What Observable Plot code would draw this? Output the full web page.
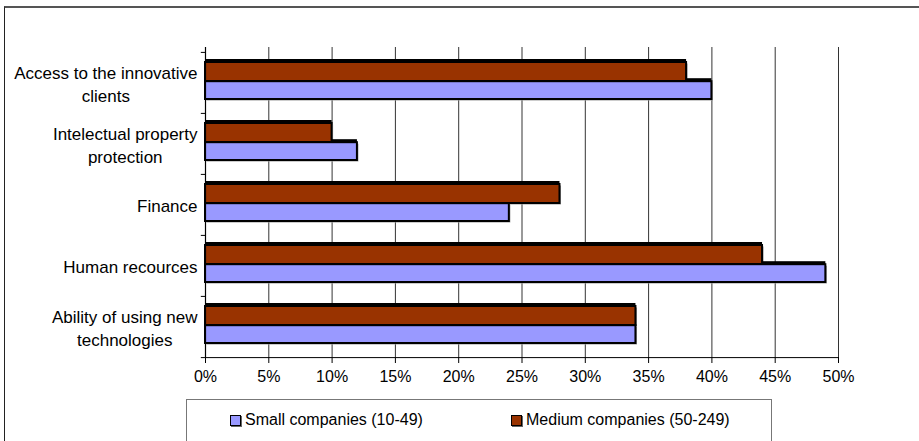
<!DOCTYPE html>
<html><head><meta charset="utf-8">
<script src="https://cdn.jsdelivr.net/npm/d3@7"></script>
<script src="https://cdn.jsdelivr.net/npm/@observablehq/plot@0.6"></script>
<style>
body{margin:0;background:#fff;font-family:"Liberation Sans",Arial,sans-serif;}
#wrap{position:relative;width:919px;height:441px;overflow:hidden;background:#fff;}
#chart{position:absolute;left:0;top:0;}
#frame{position:absolute;left:4px;top:6px;width:1000px;height:600px;border-top:2px solid #555;border-left:1px solid #222;pointer-events:none;}
#legend{position:absolute;left:186px;top:399px;width:586px;height:100px;border:1px solid #777;box-sizing:border-box;}
.item{position:absolute;top:10px;height:20px;display:flex;align-items:center;font-size:16px;color:#000;white-space:nowrap;}
.sw{width:9px;height:9px;border:1.5px solid #000;margin-right:4px;box-shadow:1px 1px 0 #666;}
</style></head>
<body><div id="wrap"><div id="chart"></div><div id="legend"></div><div id="frame"></div></div>
<script>
const categories = ["Access to the innovative\nclients", "Intelectual property\nprotection", "Finance", "Human recources", "Ability of using new\ntechnologies"];
const seriesNames = ["Small companies (10-49)", "Medium companies (50-249)"];
const smallValues = [40, 12, 24, 49, 34];
const mediumValues = [38, 10, 28, 44, 34];
const seriesColors = ["#9999ff", "#993300"];
const xTicks = [0, 5, 10, 15, 20, 25, 30, 35, 40, 45, 50];

const rows = [];
categories.forEach((c, i) => {
  rows.push({category: c, series: seriesNames[0], value: smallValues[i]});
  rows.push({category: c, series: seriesNames[1], value: mediumValues[i]});
});
const smallRows = rows.filter(d => d.series === seriesNames[0]);
const mediumRows = rows.filter(d => d.series === seriesNames[1]);

const marginTop = 51, plotBottom = 357, H = 395;
const bw = (plotBottom - marginTop) / categories.length;
const FONT = "'Liberation Sans', Arial, sans-serif";

const ctx = document.createElement("canvas").getContext("2d");
ctx.font = "17px 'Liberation Sans'";
const labelWidth = c => Math.max(...c.split("\n").map(s => ctx.measureText(s).width));

const medInset = {insetTop: 10, insetBottom: 32};
const smallInset = {insetTop: 29.2, insetBottom: 14};
const colorOf = {fill: "series"};

const marks = [
  Plot.ruleX(xTicks.slice(1), {stroke: "#000", strokeOpacity: 0.8, strokeWidth: 1, insetTop: -4}),
  // soft shadows
  Plot.barX(mediumRows, {x: "value", y: "category", ...medInset, fill: "#999", dx: 1.5, dy: 1.5}),
  Plot.barX(smallRows, {x: "value", y: "category", ...smallInset, fill: "#999", dx: 1.5, dy: 1.5}),
  // dark shadows
  Plot.barX(mediumRows, {x: "value", y: "category", ...medInset, fill: "#000", dy: -3}),
  Plot.barX(smallRows, {x: "value", y: "category", ...smallInset, fill: "#000", dy: -3}),
  // bars
  Plot.barX(mediumRows, {x: "value", y: "category", ...medInset, ...colorOf, stroke: "#000", strokeWidth: 2}),
  Plot.barX(smallRows, {x: "value", y: "category", ...smallInset, ...colorOf, stroke: "#000", strokeWidth: 2}),
  // axes
  Plot.ruleX([0], {stroke: "#000", strokeWidth: 1.2, insetTop: -4}),
  Plot.ruleY([categories[categories.length - 1]], {y: d => d, x1: 0, x2: 50, dy: bw / 2, stroke: "#000"}),
  Plot.ruleY(categories, {y: d => d, x1: -0.33, x2: 0, dy: -bw / 2, stroke: "#000"}),
  Plot.ruleY([categories[categories.length - 1]], {y: d => d, x1: -0.33, x2: 0, dy: bw / 2, stroke: "#000"}),
  Plot.axisX({ticks: xTicks, tickFormat: d => d + "%", tickSize: 6, tickPadding: 7, fontSize: 16, stroke: "#000", label: null, anchor: "bottom"}),
  ...categories.map(c => Plot.text([c], {x: () => 0, y: d => d, text: d => d, textAnchor: "middle", lineAnchor: "middle", lineHeight: 1.35, fontSize: 17, fill: "#000", dx: -(8 + labelWidth(c) / 2)}))
];

const chart = Plot.plot({
  width: 919, height: H,
  marginLeft: 205, marginRight: 81, marginTop, marginBottom: H - plotBottom,
  style: {fontFamily: FONT, fontSize: "16px", color: "#000", background: "none", overflow: "visible"},
  x: {domain: [0, 50], axis: null},
  y: {domain: categories, padding: 0, axis: null},
  color: {domain: seriesNames, range: seriesColors},
  marks
});
document.getElementById("chart").appendChild(chart);

const legend = document.getElementById("legend");
const legendLeft = [43, 324];
seriesNames.forEach((name, i) => {
  const item = document.createElement("div");
  item.className = "item";
  item.style.left = legendLeft[i] + "px";
  const sw = document.createElement("span");
  sw.className = "sw";
  sw.style.background = seriesColors[i];
  const t = document.createElement("span");
  t.textContent = name;
  item.appendChild(sw); item.appendChild(t);
  legend.appendChild(item);
});
</script></body></html>
